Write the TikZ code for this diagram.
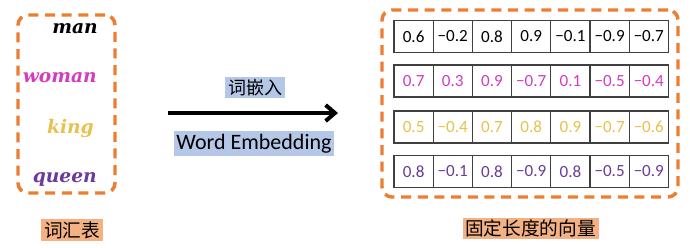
\documentclass[tikz,border=0pt]{standalone}
\usepackage{fontspec}
\setmainfont{Carlito}
\newfontfamily\cjk{Noto Sans CJK SC}
\newfontfamily\wordfont{DejaVu Serif}
\usetikzlibrary{arrows.meta}
\definecolor{dashorange}{HTML}{ED7D31}
\definecolor{wpink}{HTML}{D23CBE}
\definecolor{wgold}{HTML}{E8C14E}
\definecolor{wpurple}{HTML}{6B3A9A}
\definecolor{lblorange}{HTML}{F4B183}
\definecolor{lblblue}{HTML}{B4C7E7}
\newcommand\vrow[4]{\foreach \v [count=\i] in {#4} {\node[cell,text=#3] (c#1\i) at ({394+39.2*(\i-0.5)},#2) {\v};}}
\begin{document}
\begin{tikzpicture}[x=0.75pt,y=-0.75pt,
  dashframe/.style={draw=dashorange,line width=2.6pt,dash pattern=on 7.5pt off 5pt,rounded corners=7.5pt,inner sep=0pt},
  cell/.style={draw=black!75,line width=0.8pt,minimum width=29.4pt,minimum height=24pt,inner sep=0pt,font=\fontsize{12.8pt}{14pt}\selectfont},
  word/.style={font=\wordfont\bfseries\itshape\fontsize{14pt}{16pt}\selectfont,anchor=base east,inner sep=0pt},
  cnlabel/.style={font=\cjk\fontsize{14pt}{16pt}\selectfont,inner xsep=2pt,inner ysep=1.5pt},
  arrowlabel/.style={fill=lblblue,inner xsep=2pt,inner ysep=2pt}
]
\useasboundingbox (0,0) rectangle (690,247);
\fill[white] (0,0) rectangle (690,247);
% vocabulary frame
\node[dashframe,minimum width=72.75pt,minimum height=133.5pt] (vocab) at (66.5,104) {};
\node[word,text=black] (man) at (98,33) {man};
\node[word,text=wpink] (woman) at (97,82) {woman};
\node[word,text=wgold] (king) at (94,133) {king};
\node[word,text=wpurple] (queen) at (97,182) {queen};
\node[cnlabel,fill=lblorange] (vocablbl) at (72,230) {词汇表};
% arrow
\coordinate (a1) at (168,113);
\coordinate (a2) at (338,113);
\draw[line width=3pt,-{Straight Barb[length=7pt,width=12pt]}] (a1) -- (a2);
\node[arrowlabel,font=\cjk\fontsize{13.5pt}{15pt}\selectfont] (embcn) at (255,87.5) {词嵌入};
\node[arrowlabel,font=\fontsize{16.5pt}{18pt}\selectfont] (emben) at (254,143.5) {Word Embedding};
% vectors
\node[dashframe,minimum width=222pt,minimum height=140.25pt] (vecs) at (530,103.5) {};
\vrow{1}{36.5}{black}{0.6,−0.2,0.8,0.9,−0.1,−0.9,−0.7}
\vrow{2}{81}{wpink}{0.7,0.3,0.9,−0.7,0.1,−0.5,−0.4}
\vrow{3}{127}{wgold}{0.5,−0.4,0.7,0.8,0.9,−0.7,−0.6}
\vrow{4}{171.5}{wpurple}{0.8,−0.1,0.8,−0.9,0.8,−0.5,−0.9}
\node[cnlabel,fill=lblorange] (veclbl) at (530.5,228.5) {固定长度的向量};
\end{tikzpicture}
\end{document}
